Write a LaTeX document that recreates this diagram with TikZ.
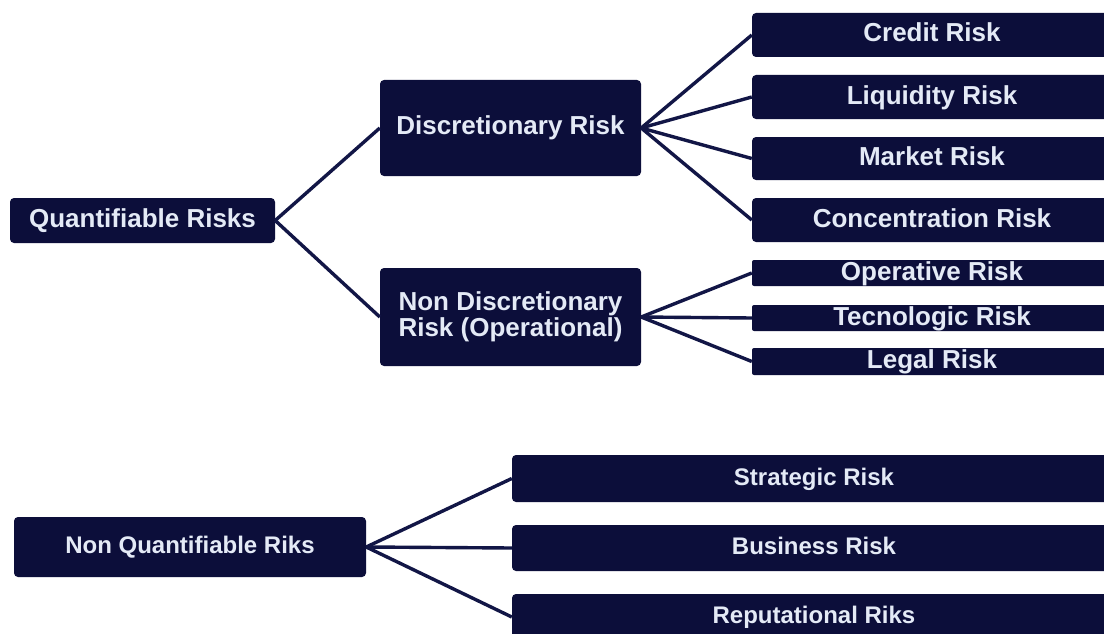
\documentclass[tikz,border=0pt]{standalone}
\usepackage{fontspec}
\setmainfont{Liberation Sans}
\definecolor{navy}{RGB}{12,14,58}
\definecolor{linkcol}{RGB}{18,22,70}
\definecolor{pale}{RGB}{228,234,246}
\begin{document}
\begin{tikzpicture}[x=1pt,y=-1pt,
  box/.style={fill=navy, text=pale, font=\bfseries\fontsize{26}{23}\selectfont,
    rounded corners=4pt, inner sep=0pt, align=center, text height=19pt, text depth=5pt},
  lowbox/.style={box, font=\bfseries\fontsize{24}{26}\selectfont, text height=17.5pt, text depth=4.5pt},
  thin/.style={rounded corners=2pt},
  link/.style={draw=linkcol, line width=3.4pt}]
\clip (0,0) rectangle (1104,634);
\fill[white] (0,0) rectangle (1104,634);
% level 1
\node[box, minimum width=265pt, minimum height=45pt] (qr) at (142.5,220.5) {Quantifiable Risks};
% level 2
\node[box, minimum width=261pt, minimum height=96pt] (dr) at (510.5,128) {Discretionary Risk};
\node[box, minimum width=261pt, minimum height=98pt, text height=43pt, text depth=5pt] (nd) at (510.5,317) {Non Discretionary\\Risk (Operational)};
% level 3 (discretionary)
\node[box, minimum width=360pt, minimum height=44pt] (cr) at (932,35) {Credit Risk};
\node[box, minimum width=360pt, minimum height=44pt] (li) at (932,97) {Liquidity Risk};
\node[box, minimum width=360pt, minimum height=43pt] (mk) at (932,158.5) {Market Risk};
\node[box, minimum width=360pt, minimum height=44pt] (co) at (932,220) {Concentration Risk};
% level 3 (non discretionary)
\node[box, thin, minimum width=360pt, minimum height=26pt] (op) at (932,273) {Operative Risk};
\node[box, thin, minimum width=360pt, minimum height=26pt] (te) at (932,318) {Tecnologic Risk};
\node[box, thin, minimum width=360pt, minimum height=27pt] (le) at (932,361.5) {Legal Risk};
% non quantifiable
\node[lowbox, minimum width=352pt, minimum height=60pt] (nq) at (190,547) {Non Quantifiable Riks};
\node[lowbox, minimum width=604pt, minimum height=47pt] (st) at (814,478.5) {Strategic Risk};
\node[lowbox, minimum width=604pt, minimum height=46pt] (bu) at (814,548) {Business Risk};
\node[lowbox, minimum width=604pt, minimum height=46pt] (re) at (814,617) {Reputational Riks};
% connectors
\draw[link] (qr.east) -- (dr.west);
\draw[link] (qr.east) -- (nd.west);
\draw[link] (dr.east) -- (cr.west);
\draw[link] (dr.east) -- (li.west);
\draw[link] (dr.east) -- (mk.west);
\draw[link] (dr.east) -- (co.west);
\draw[link] (nd.east) -- (op.west);
\draw[link] (nd.east) -- (te.west);
\draw[link] (nd.east) -- (le.west);
\draw[link] (nq.east) -- (st.west);
\draw[link] (nq.east) -- (bu.west);
\draw[link] (nq.east) -- (re.west);
\end{tikzpicture}
\end{document}
